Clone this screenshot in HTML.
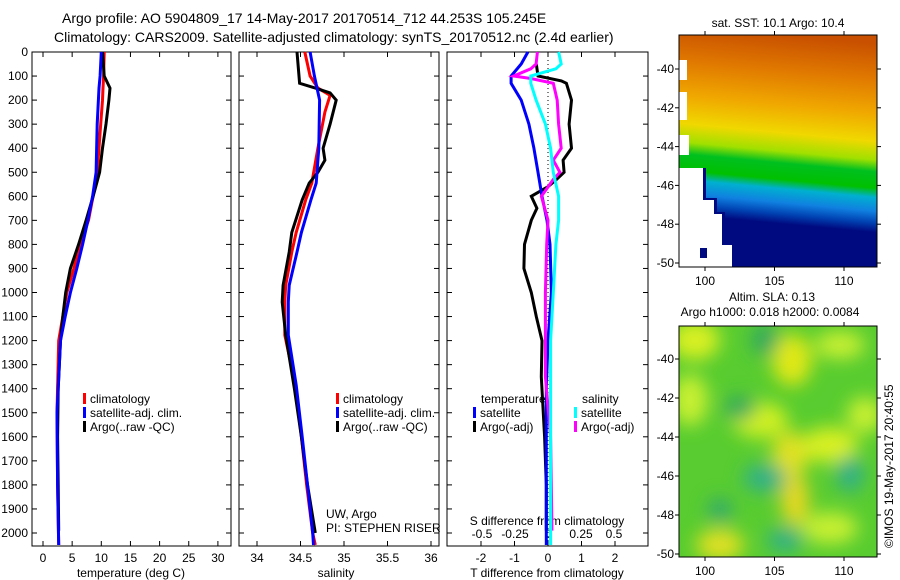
<!DOCTYPE html>
<html><head><meta charset="utf-8"><style>
body{margin:0;background:#fff;}
svg{display:block;font-family:"Liberation Sans",sans-serif;}
text{fill:#000;}
</style></head><body>
<svg id="c" width="900" height="580" viewBox="0 0 900 580">
<defs>
<linearGradient id="sst" x1="0.54" y1="0" x2="0.46" y2="1">
<stop offset="0" stop-color="#c85000"/><stop offset="0.15" stop-color="#e07800"/>
<stop offset="0.3" stop-color="#f0a800"/><stop offset="0.42" stop-color="#f0d800"/>
<stop offset="0.5" stop-color="#a0e000"/><stop offset="0.55" stop-color="#00c020"/>
<stop offset="0.62" stop-color="#00c000"/><stop offset="0.66" stop-color="#00b0d0"/>
<stop offset="0.72" stop-color="#1080e0"/><stop offset="0.77" stop-color="#0040b0"/>
<stop offset="0.81" stop-color="#000a80"/><stop offset="1" stop-color="#000a80"/>
</linearGradient>
<filter id="bl" x="-30%" y="-30%" width="160%" height="160%"><feGaussianBlur stdDeviation="9"/></filter>
<clipPath id="m2c"><rect x="679" y="326" width="198" height="231"/></clipPath>
</defs>
<text x="62" y="23" font-size="14">Argo profile: AO 5904809_17 14-May-2017 20170514_712 44.253S 105.245E</text>
<text x="54" y="42" font-size="14">Climatology: CARS2009. Satellite-adjusted climatology: synTS_20170512.nc (2.4d earlier)</text>

<g id="map1">
<text x="778" y="27" font-size="12" text-anchor="middle">sat. SST: 10.1  Argo: 10.4</text>
<rect x="679" y="35" width="198" height="232" fill="url(#sst)"/>
<rect x="679" y="60" width="8" height="20" fill="#fff"/>
<rect x="679" y="92" width="8" height="28" fill="#fff"/>
<rect x="679" y="135" width="10" height="20" fill="#fff"/>
<polygon points="679,168 703,168 703,200 714,200 714,214 722,214 722,245 732,245 732,267 679,267" fill="#fff"/>
<polygon points="703,168 706,168 706,198 717,198 717,212 725,212 725,243 735,243 735,267 732,267 732,245 722,245 722,214 714,214 714,200 703,200" fill="#000a80"/>
<rect x="700" y="248" width="7" height="10" fill="#000a80"/>
<rect x="679" y="35" width="198" height="232" fill="none" stroke="#000"/>
</g>
<g id="map2">
<text x="772" y="301" font-size="12" text-anchor="middle">Altim. SLA: 0.13</text>
<text x="770" y="316" font-size="12" text-anchor="middle">Argo h1000: 0.018 h2000: 0.0084</text>
<g clip-path="url(#m2c)">
<rect x="679" y="326" width="198" height="231" fill="#58cc30"/>
<g filter="url(#bl)">
<ellipse cx="695" cy="340" rx="25" ry="20" fill="#d8f020"/>
<ellipse cx="792" cy="360" rx="20" ry="26" fill="#e0e818"/>
<ellipse cx="840" cy="345" rx="25" ry="14" fill="#c8f030"/>
<ellipse cx="690" cy="400" rx="18" ry="26" fill="#c8f030"/>
<ellipse cx="760" cy="420" rx="28" ry="18" fill="#d0f020"/>
<ellipse cx="790" cy="455" rx="18" ry="24" fill="#e0e020"/>
<ellipse cx="830" cy="445" rx="28" ry="18" fill="#d8f020"/>
<ellipse cx="865" cy="415" rx="18" ry="18" fill="#c8f030"/>
<ellipse cx="795" cy="500" rx="14" ry="26" fill="#e8d820"/>
<ellipse cx="720" cy="545" rx="24" ry="16" fill="#e0e020"/>
<ellipse cx="830" cy="528" rx="28" ry="16" fill="#c8f030"/>
<ellipse cx="765" cy="478" rx="22" ry="14" fill="#30b088"/>
<ellipse cx="850" cy="474" rx="14" ry="18" fill="#30b088"/>
<ellipse cx="740" cy="408" rx="16" ry="12" fill="#30a860"/>
<ellipse cx="785" cy="540" rx="18" ry="12" fill="#30b088"/>
<ellipse cx="720" cy="510" rx="12" ry="12" fill="#30a870"/>
<ellipse cx="765" cy="340" rx="14" ry="16" fill="#30a860"/>
</g></g>
<rect x="679" y="326" width="198" height="231" fill="none" stroke="#000"/>
<text x="893" y="548" font-size="12" transform="rotate(-90 893 548)">©IMOS 19-May-2017 20:40:55</text>
</g>
</svg>
<script>
// depth grids and series
const tDepth=[0,100,150,200,300,500,600,700,800,900,1000,1100,1200,1500,1800,2050];
const tClim=[10.5,10.4,10.3,10.2,9.9,9.3,8.6,7.8,6.4,5.3,4.1,3.4,2.7,2.4,2.5,2.7];
const tSat=[10.0,9.8,9.6,9.5,9.3,9.1,8.5,7.7,6.8,5.8,4.7,3.8,3.0,2.4,2.5,2.7];
const aDepth=[0,100,150,200,300,400,500,600,700,800,900,1000,1100,1200,1400,1600,1800,1990];
const tArgo=[10.2,10.5,11.5,11.3,10.8,10.2,9.7,8.6,7.4,6.1,4.7,3.9,3.4,3.0,2.6,2.5,2.6,2.7];
const sDepth=[0,100,150,180,250,400,545,615,750,832,970,1040,1177,1385,1600,1800,2000,2050];
const sClim=[34.55,34.61,34.70,34.84,34.78,34.70,34.63,34.56,34.45,34.40,34.33,34.32,34.32,34.44,34.51,34.57,34.64,34.67];
const sSatDepth=[0,100,200,400,545,615,750,832,970,1040,1177,1385,1600,1800,2000,2050];
const sSat=[34.61,34.66,34.72,34.71,34.68,34.62,34.51,34.46,34.37,34.36,34.36,34.45,34.52,34.58,34.64,34.65];
const sArgoDepth=[0,130,150,170,200,300,400,450,500,545,615,750,832,970,1040,1177,1400,1600,1800,2000];
const sArgo=[34.46,34.49,34.67,34.84,34.91,34.84,34.76,34.78,34.70,34.60,34.52,34.40,34.37,34.30,34.29,34.33,34.43,34.51,34.58,34.67];
const dtSatDepth=[0,50,100,130,200,300,400,500,600,700,800,1000,1200,1400,2050];
const dtSat=[-0.6,-0.8,-1.1,-1.1,-0.8,-0.57,-0.42,-0.3,-0.18,-0.03,0.06,0.1,0.0,-0.05,-0.05];
const dtArgoDepth=[50,100,120,130,200,300,400,450,500,530,560,600,650,700,800,900,1000,1100,1200,1350,1600,1800,1990];
const dtArgo=[-0.35,-0.3,0.4,0.55,0.7,0.63,0.7,0.45,0.48,0.25,0,-0.5,-0.33,-0.5,-0.7,-0.72,-0.5,-0.35,-0.18,-0.2,-0.1,-0.05,-0.05];
const dsSatDepth=[0,50,70,100,130,200,300,400,500,600,700,800,1000,1200,2050];
const dsSat=[0.08,0.1,0.06,-0.13,-0.13,-0.09,-0.02,0.02,0.04,0.08,0.08,0.06,0.04,0.02,0.02];
const dsArgoDepth=[0,50,70,100,110,130,200,300,400,450,500,530,600,700,800,1000,1200,1350,1600,1990];
const dsArgo=[-0.08,-0.09,-0.13,-0.26,-0.13,0.04,0.07,0.08,0.1,0.04,0.09,0.04,-0.05,0.0,-0.01,-0.02,-0.02,-0.02,0.02,0.03];
const depthTicks=[0,100,200,300,400,500,600,700,800,900,1000,1100,1200,1300,1400,1500,1600,1700,1800,1900,2000];
const tTicks=[0,5,10,15,20,25,30];
const sTicks=[34,34.5,35,35.5,36];
const dtTicks=[-2,-1,0,1,2];
const dsTicks=[-0.5,-0.25,0,0.25,0.5];
const dsTickLabels=["-0.5","-0.25","0","0.25","0.5"];
const lonTicks=[100,105,110];
const latTicks=[-40,-42,-44,-46,-48,-50];

const svg=document.getElementById('c');const NS='http://www.w3.org/2000/svg';
function mk(t,a,p){const e=document.createElementNS(NS,t);for(const k in a)e.setAttribute(k,a[k]);(p||svg).appendChild(e);return e;}
const Y0=52,Y1=546;const yD=d=>Y0+d*0.2405;
const P1={x0:32,x1:231},P2={x0:239,x1:439},P3={x0:447,x1:648};
const xT=v=>43+v*5.83, xS=v=>257+(v-34)*87, xDT=v=>548+v*33.5, xDS=v=>548+v*132;
function frame(P,name){const r=mk('rect',{x:P.x0,y:Y0,width:P.x1-P.x0,height:Y1-Y0,fill:'none',stroke:'#000'});

}
frame(P1,'temperature-panel');frame(P2,'salinity-panel');frame(P3,'difference-panel');
function xticks(P,ticks,fx,labels,ly,name){ticks.forEach((v,i)=>{const x=fx(v);
mk('line',{x1:x,x2:x,y1:Y0,y2:Y0+5,stroke:'#000'});mk('line',{x1:x,x2:x,y1:Y1,y2:Y1-5,stroke:'#000'});
const t=mk('text',{x:x,y:ly,'font-size':12,'text-anchor':'middle'});t.textContent=labels?labels[i]:String(v);

});}
xticks(P1,tTicks,xT,null,562,'temperature-tick-label');
xticks(P2,sTicks,xS,null,562,'salinity-tick-label');
xticks(P3,dtTicks,xDT,null,562,'t-diff-tick-label');
dsTicks.forEach((v,i)=>{const t=mk('text',{x:xDS(v),y:538,'font-size':12,'text-anchor':'middle'});t.textContent=dsTickLabels[i];

});
depthTicks.forEach(d=>{const y=yD(d);[P1,P2,P3].forEach(P=>{mk('line',{x1:P.x0,x2:P.x0+5,y1:y,y2:y,stroke:'#000'});mk('line',{x1:P.x1,x2:P.x1-5,y1:y,y2:y,stroke:'#000'});});
const t=mk('text',{x:28,y:y+4,'font-size':12,'text-anchor':'end'});t.textContent=d;

});
function lab(x,y,s,name,anchor){const t=mk('text',{x:x,y:y,'font-size':12,'text-anchor':anchor||'middle'});t.textContent=s;

}
lab(131,577,'temperature (deg C)','temperature-axis-title');
lab(336,577,'salinity','salinity-axis-title');
lab(547,577,'T difference from climatology','t-diff-axis-title');
lab(547,525,'S difference from climatology','s-diff-axis-title');
lab(326,518,'UW, Argo','institution-label','start');
lab(326,532,'PI: STEPHEN RISER','pi-label','start');
mk('line',{x1:548,x2:548,y1:Y0,y2:Y1,stroke:'#000','stroke-dasharray':'1,3'});
function line(ds,vs,fx,col,w,name){const p=mk('polyline',{points:ds.map((d,i)=>fx(vs[i]).toFixed(1)+','+yD(d).toFixed(1)).join(' '),fill:'none',stroke:col,'stroke-width':w});

}
line(tDepth,tClim,xT,'#f00',3,'temperature-climatology-line');
line(aDepth,tArgo,xT,'#000',3,'temperature-argo-line');
line(tDepth,tSat,xT,'#00f',3,'temperature-satellite-line');
line(sDepth,sClim,xS,'#f00',3,'salinity-climatology-line');
line(sArgoDepth,sArgo,xS,'#000',3,'salinity-argo-line');
line(sSatDepth,sSat,xS,'#00f',3,'salinity-satellite-line');
line(dtArgoDepth,dtArgo,xDT,'#000',3,'t-diff-argo-line');
line(dtSatDepth,dtSat,xDT,'#00f',3,'t-diff-satellite-line');
line(dsArgoDepth,dsArgo,xDS,'#f0f',3,'s-diff-argo-line');
line(dsSatDepth,dsSat,xDS,'#0ff',3,'s-diff-satellite-line');
function leg(x,y,col,s,name){mk('rect',{x:x,y:y-10,width:3,height:11,fill:col});
const t=mk('text',{x:x+7,y:y,'font-size':12});t.textContent=s;

}
leg(83,403,'#f00','climatology','legend-climatology');
leg(83,417,'#00f','satellite-adj. clim.','legend-satellite-adj');
leg(83,431,'#000','Argo(..raw -QC)','legend-argo');
leg(336,403,'#f00','climatology','legend-climatology-2');
leg(336,417,'#00f','satellite-adj. clim.','legend-satellite-adj-2');
leg(336,431,'#000','Argo(..raw -QC)','legend-argo-2');
lab(481,403,'temperature','legend-temperature-header','start');
lab(582,403,'salinity','legend-salinity-header','start');
leg(473,417,'#00f','satellite','legend-t-satellite');
leg(473,431,'#000','Argo(-adj)','legend-t-argo');
leg(574,417,'#0ff','satellite','legend-s-satellite');
leg(574,431,'#f0f','Argo(-adj)','legend-s-argo');
// map axes
const lonX=v=>705+(v-100)*13.9;
function mapAxes(yTop,yBot,latY,name){lonTicks.forEach(v=>{const x=lonX(v);mk('line',{x1:x,x2:x,y1:yTop,y2:yTop-4,stroke:'#000'});mk('line',{x1:x,x2:x,y1:yBot,y2:yBot+4,stroke:'#000'});
const t=mk('text',{x:x,y:yBot+18,'font-size':12,'text-anchor':'middle'});t.textContent=v;

});
latTicks.forEach(v=>{const y=latY(v);if(y<yTop||y>yBot+2)return;mk('line',{x1:675,x2:679,y1:y,y2:y,stroke:'#000'});mk('line',{x1:877,x2:881,y1:y,y2:y,stroke:'#000'});
const t=mk('text',{x:674,y:y+4,'font-size':12,'text-anchor':'end'});t.textContent=v;

});}
mapAxes(35,267,v=>69+(-40-v)*19.4,'sst-map');
mapAxes(326,557,v=>359+(-40-v)*19.5,'sla-map');
</script>
</body></html>
